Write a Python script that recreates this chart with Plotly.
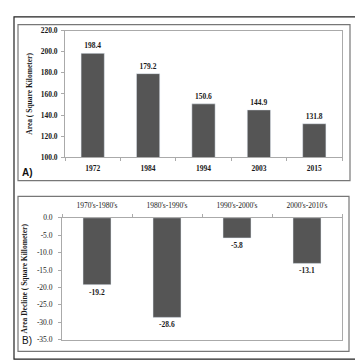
import plotly.graph_objects as go

years = ["1972", "1984", "1994", "2003", "2015"]
area = [198.4, 179.2, 150.6, 144.9, 131.8]
periods = ["1970's-1980's", "1980's-1990's", "1990's-2000's", "2000's-2010's"]
decline = [-19.2, -28.6, -5.8, -13.1]
a_ticks = [100, 120, 140, 160, 180, 200, 220]
b_ticks = [0, -5, -10, -15, -20, -25, -30, -35]

W, H = 363, 364
def px(x): return x / W
def py(y): return 1 - y / H

BAR = "#555555"
SERIF = "Liberation Serif, Times New Roman, serif"
TXT = dict(family=SERIF, size=7.5, color="#1a1a1a")

fig = go.Figure()
fig.add_trace(go.Bar(x=years, y=area, marker_color=BAR, width=0.42,
                     text=[f"<b>{v:.1f}</b>" for v in area], textposition="outside",
                     textfont=TXT, outsidetextfont=TXT,
                     cliponaxis=False, xaxis="x", yaxis="y"))
fig.add_trace(go.Bar(x=periods, y=decline, marker_color=BAR, width=0.4,
                     text=[f"<b>{v:.1f}</b>" for v in decline], textposition="outside",
                     textfont=TXT, outsidetextfont=TXT,
                     cliponaxis=False, xaxis="x2", yaxis="y2"))

axcommon = dict(showgrid=False, zeroline=False, showline=True, linecolor="#aaaaaa",
                linewidth=1, mirror=True, ticks="outside", tickcolor="#aaaaaa", ticklen=3)
fig.update_layout(
    width=W, height=H, margin=dict(l=0, r=0, t=0, b=0),
    paper_bgcolor="white", plot_bgcolor="white", showlegend=False,
    font=TXT,
    xaxis=dict(domain=[px(57), px(334)], anchor="y", tickson="boundaries",
               tickvals=years, ticktext=[f"<b>{y}</b>" for y in years],
               tickfont=TXT, ticklabelstandoff=4, **axcommon),
    yaxis=dict(domain=[py(149), py(19)], anchor="x", range=[100, 220],
               tickvals=a_ticks, ticktext=[f"<b>{v:.1f}</b>" for v in a_ticks],
               tickfont=TXT, ticklabelstandoff=2,
               title=dict(text="<b>Area ( Square Kilometer)</b>", font=TXT, standoff=6),
               **axcommon),
    xaxis2=dict(domain=[px(54), px(334)], anchor="y2", side="top", tickson="boundaries",
                tickfont=TXT, ticklabelstandoff=6, **axcommon),
    yaxis2=dict(domain=[py(336), py(211)], anchor="x2", range=[-35, 0],
                tickvals=b_ticks, ticktext=[f"{v:.1f}" for v in b_ticks],
                tickfont=TXT, ticklabelstandoff=4,
                title=dict(text="<b>Area Decline ( Square Killometer)</b>", font=TXT, standoff=8),
                **axcommon),
)

shapes = [
    dict(type="rect", xref="paper", yref="paper", x0=px(6), x1=px(354), y0=py(356), y1=py(5),
         line=dict(color="#222", width=1.2)),
    dict(type="rect", xref="paper", yref="paper", x0=px(10), x1=px(342), y0=py(173), y1=py(13),
         line=dict(color="#777", width=1.2)),
    dict(type="rect", xref="paper", yref="paper", x0=px(10), x1=px(341), y0=py(348), y1=py(189),
         line=dict(color="#777", width=1.2)),
]
fig.update_layout(shapes=shapes)
fig.add_annotation(text="<b>A)</b>", x=px(12), y=py(165), xref="paper", yref="paper",
                   xanchor="left", yanchor="middle", showarrow=False,
                   font=dict(family="Liberation Sans, Arial", size=10, color="#111"))
fig.add_annotation(text="B)", x=px(12), y=py(337), xref="paper", yref="paper",
                   xanchor="left", yanchor="middle", showarrow=False,
                   font=dict(family="Liberation Sans, Arial", size=10, color="#111"))

fig.write_html("out.html")
